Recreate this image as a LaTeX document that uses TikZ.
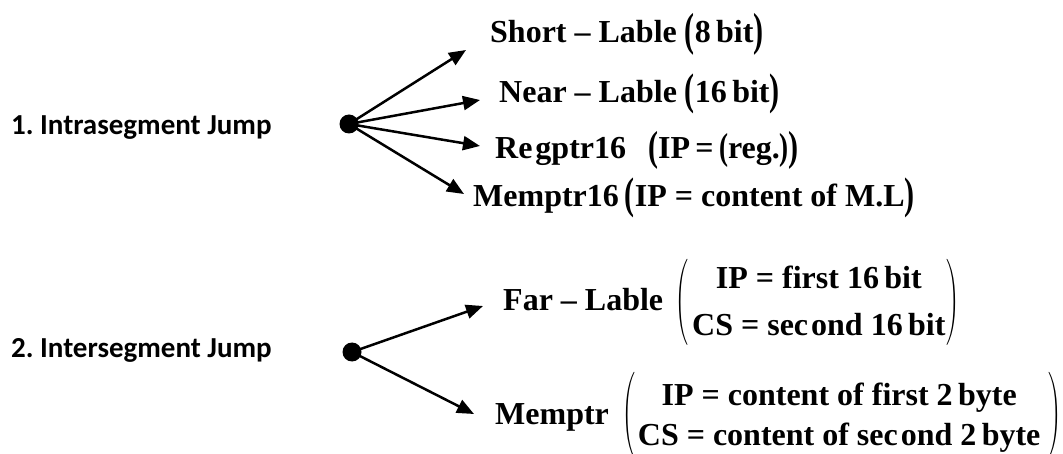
\documentclass[tikz,border=0pt]{standalone}
\usepackage{fontspec}
\usepackage{graphicx}
\usetikzlibrary{arrows.meta}
\setmainfont{Liberation Serif}
\newfontfamily\lblfamily{Carlito}
% scaled bold text parenthesis: #1 width, #2 total height, centred on the text axis
\newcommand\LP[2]{\raisebox{\dimexpr 9pt-#2/2\relax}{\resizebox*{#1}{#2}{\raisebox{\depth}{(}}}}
\newcommand\RP[2]{\raisebox{\dimexpr 9pt-#2/2\relax}{\resizebox*{#1}{#2}{\raisebox{\depth}{)}}}}
% tall parenthesis from the math extension font
\newcommand\LPT[2]{\raisebox{\dimexpr 9pt-#2/2\relax}{\resizebox*{#1}{#2}{\raisebox{\depth}{\fontsize{10}{12}\selectfont$\Biggl($}}}}
\newcommand\RPT[2]{\raisebox{\dimexpr 9pt-#2/2\relax}{\resizebox*{#1}{#2}{\raisebox{\depth}{\fontsize{10}{12}\selectfont$\Biggr)$}}}}
\begin{document}
\begin{tikzpicture}[x=1pt,y=-1pt,
  lbl/.style={font=\lblfamily\bfseries\fontsize{29}{34}\selectfont\frenchspacing, anchor=base west, inner sep=0pt},
  rt/.style={font=\bfseries\fontsize{32}{38}\selectfont\frenchspacing, anchor=base west, inner sep=0pt},
  dotnode/.style={circle, fill=black, inner sep=0pt, minimum size=19pt},
  arr/.style={-{Triangle[length=17pt,width=14pt]}, line width=2.5pt}]
\useasboundingbox (0,0) rectangle (1063,454);

% left labels
\node[lbl] (intra) at (11,135) {1. Intrasegment Jump};
\node[lbl] (inter) at (11,357) {2. Intersegment Jump};

% dots
\node[dotnode] (d1) at (349,124) {};
\node[dotnode] (d2) at (352,352) {};

% right-hand texts
\node[rt] (short) at (490,43) {Short – Lable\hspace{8pt}\LP{10pt}{42pt}8\,bit\RP{10pt}{42pt}};
\node[rt] (near) at (499,103) {Near – Lable\hspace{8pt}\LP{10pt}{40pt}16\,bit\RP{10pt}{40pt}};
\node[rt] (reg) at (495,159) {Re\kern3pt gptr16\hspace{22pt}\LP{10pt}{38pt}IP\,=\,\LP{9pt}{34pt}reg.\RP{9pt}{34pt}\RP{10pt}{38pt}};
\node[rt] (mem16) at (473,207) {Memptr16\hspace{6pt}\LP{10pt}{40pt}IP = content of M.L\RP{10pt}{40pt}};

\node[rt] (far) at (503,311) {Far – Lable\hspace{12pt}\LPT{13pt}{86pt}\begin{tabular}{@{\hspace{4pt}}c@{\hspace{1pt}}}IP = first 16\,bit\\[9pt]CS = sec\kern3pt ond 16\,bit\end{tabular}\RPT{13pt}{86pt}};
\node[rt] (mem) at (495,424) {Memptr\hspace{14pt}\LPT{13pt}{86pt}\begin{tabular}{@{\hspace{2pt}}c@{\hspace{8pt}}}IP = content of first 2\,byte\\[2pt]CS = content of sec\kern3pt ond 2\,byte\end{tabular}\RPT{13pt}{86pt}};

% arrow ends
\coordinate (e1) at (466,50);
\coordinate (e2) at (480,100);
\coordinate (e3) at (480,146);
\coordinate (e4) at (464,194);
\coordinate (e5) at (483,306);
\coordinate (e6) at (474,414);

\foreach \e in {e1,e2,e3,e4} \draw[arr] (d1.center) -- (\e);
\foreach \e in {e5,e6} \draw[arr] (d2.center) -- (\e);
\end{tikzpicture}
\end{document}
